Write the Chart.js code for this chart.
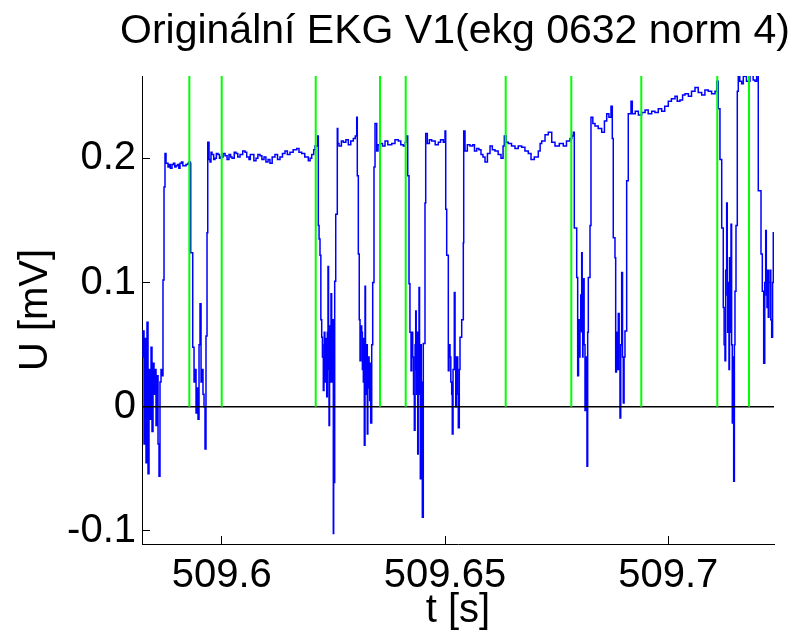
<!DOCTYPE html>
<html>
<head>
<meta charset="utf-8">
<script src="https://cdn.jsdelivr.net/npm/chart.js@4.4.1/dist/chart.umd.min.js"></script>
<style>
  html, body { margin: 0; padding: 0; background: #fff; }
  canvas { display: block; }
</style>
</head>
<body>
<canvas id="ekg" width="793" height="637"></canvas>
<script>
// signal: [time s, voltage mV]
const samples = [
  // noise at the left edge, rise to first plateau
  [509.58222, 0.040], [509.58238, 0.061], [509.58260, -0.030], [509.58283, 0.055],
  [509.58305, -0.045], [509.58327, 0.068], [509.58350, -0.054], [509.58372, 0.030],
  [509.58395, -0.010], [509.58417, 0.048], [509.58439, -0.020], [509.58462, 0.035],
  [509.58484, 0.010], [509.58506, 0.030], [509.58529, -0.015], [509.58551, 0.025],
  [509.58574, -0.030], [509.58596, -0.056], [509.58618, 0.020], [509.58641, 0.030],
  [509.58663, 0.025], [509.58685, 0.102], [509.58708, 0.177], [509.58730, 0.204],
  [509.58753, 0.196], [509.58797, 0.193], [509.58820, 0.195], [509.58850, 0.192],
  [509.58887, 0.195], [509.58920, 0.196], [509.58950, 0.193], [509.58977, 0.194],
  [509.59010, 0.195], [509.59040, 0.192], [509.59066, 0.196], [509.59100, 0.197],
  [509.59130, 0.194], [509.59156, 0.194], [509.59200, 0.195], [509.59245, 0.196],
  [509.59270, 0.197], [509.59297, 0.196],
  // first complex
  [509.59306, 0.124], [509.59351, 0.048], [509.59380, 0.020], [509.59402, 0.030],
  [509.59425, -0.005], [509.59447, 0.015], [509.59469, -0.010], [509.59492, 0.050],
  [509.59514, 0.083], [509.59537, 0.020], [509.59559, 0.030], [509.59581, 0.010],
  [509.59604, 0.000], [509.59626, -0.034], [509.59648, 0.057], [509.59671, 0.140],
  [509.59687, 0.213],
  // plateau
  [509.59716, 0.199], [509.59738, 0.197], [509.59760, 0.205], [509.59783, 0.203],
  [509.59820, 0.199], [509.59850, 0.200], [509.59880, 0.204], [509.59917, 0.203],
  [509.59950, 0.200], [509.59984, 0.201], [509.60030, 0.204], [509.60074, 0.202],
  [509.60120, 0.199], [509.60163, 0.203], [509.60200, 0.201], [509.60231, 0.200],
  [509.60280, 0.205], [509.60320, 0.204], [509.60360, 0.201], [509.60410, 0.203],
  [509.60470, 0.206], [509.60522, 0.205], [509.60560, 0.201], [509.60611, 0.199],
  [509.60640, 0.203], [509.60678, 0.203], [509.60720, 0.198], [509.60768, 0.200],
  [509.60810, 0.203], [509.60858, 0.202], [509.60900, 0.199], [509.60947, 0.201],
  [509.60990, 0.197], [509.61037, 0.199], [509.61080, 0.196], [509.61130, 0.201],
  [509.61193, 0.203], [509.61250, 0.199], [509.61305, 0.201], [509.61360, 0.204],
  [509.61417, 0.206], [509.61470, 0.203], [509.61529, 0.205], [509.61600, 0.207],
  [509.61679, 0.208], [509.61730, 0.205], [509.61791, 0.204], [509.61860, 0.201],
  [509.61939, 0.198], [509.61980, 0.200], [509.62015, 0.203], [509.62060, 0.207],
  [509.62089, 0.210], [509.62150, 0.218],
  // second complex
  [509.62163, 0.146], [509.62180, 0.135], [509.62201, 0.122], [509.62220, 0.070],
  [509.62239, 0.056], [509.62255, 0.040], [509.62275, 0.013], [509.62290, 0.050],
  [509.62297, 0.060], [509.62310, 0.020], [509.62329, 0.030], [509.62340, 0.055],
  [509.62351, 0.008], [509.62365, 0.060], [509.62380, 0.113], [509.62392, 0.030],
  [509.62403, -0.015], [509.62415, 0.065], [509.62425, 0.050], [509.62437, 0.020],
  [509.62447, 0.091], [509.62462, 0.040], [509.62476, 0.020], [509.62490, 0.070],
  [509.62499, -0.102], [509.62507, 0.050], [509.62515, -0.061], [509.62530, 0.101],
  [509.62553, 0.155], [509.62588, 0.224],
  [509.62600, 0.212], [509.62626, 0.210], [509.62680, 0.214], [509.62723, 0.213],
  [509.62780, 0.215], [509.62835, 0.211], [509.62890, 0.214], [509.62947, 0.216],
  [509.62990, 0.218], [509.63023, 0.233],
  [509.63036, 0.186], [509.63059, 0.123], [509.63080, 0.070], [509.63097, 0.037],
  [509.63115, 0.065], [509.63135, 0.060], [509.63150, 0.030], [509.63171, 0.020],
  [509.63182, 0.055], [509.63193, -0.031], [509.63209, 0.097], [509.63220, 0.040],
  [509.63231, 0.010], [509.63245, 0.050], [509.63260, -0.022], [509.63272, 0.030],
  [509.63283, 0.040], [509.63300, 0.015], [509.63314, 0.005], [509.63325, 0.035],
  [509.63336, -0.013], [509.63359, 0.050], [509.63381, 0.100], [509.63410, 0.193],
  [509.63433, 0.228],
  [509.63471, 0.206], [509.63500, 0.211], [509.63545, 0.212], [509.63600, 0.210],
  [509.63657, 0.214], [509.63720, 0.211], [509.63807, 0.212], [509.63880, 0.215],
  [509.63954, 0.214], [509.64010, 0.211], [509.64066, 0.210], [509.64110, 0.213],
  [509.64142, 0.218],
  // third complex
  [509.64165, 0.186], [509.64194, 0.099], [509.64215, 0.060], [509.64239, 0.029],
  [509.64255, 0.060], [509.64277, 0.040], [509.64295, 0.010], [509.64313, -0.019],
  [509.64330, 0.050], [509.64344, 0.077], [509.64355, 0.030], [509.64366, 0.010],
  [509.64378, 0.060], [509.64389, -0.038], [509.64400, 0.040], [509.64418, 0.096],
  [509.64430, 0.010], [509.64447, -0.058], [509.64458, 0.050], [509.64469, 0.020],
  [509.64480, -0.030], [509.64492, -0.089], [509.64514, 0.051], [509.64552, 0.164],
  [509.64568, 0.220],
  [509.64604, 0.212], [509.64650, 0.215], [509.64702, 0.214], [509.64780, 0.211],
  [509.64850, 0.213], [509.64900, 0.215], [509.64962, 0.213], [509.65000, 0.222],
  [509.65016, 0.159], [509.65038, 0.122], [509.65074, 0.029], [509.65090, 0.050],
  [509.65112, 0.040], [509.65130, 0.020], [509.65150, 0.010], [509.65163, -0.022],
  [509.65180, 0.030], [509.65208, 0.092], [509.65225, 0.040], [509.65240, 0.000],
  [509.65255, 0.030], [509.65269, 0.040], [509.65285, 0.010], [509.65298, -0.017],
  [509.65320, 0.030], [509.65336, 0.056], [509.65374, 0.070], [509.65410, 0.132],
  [509.65419, 0.222],
  // long plateau
  [509.65448, 0.206], [509.65500, 0.211], [509.65560, 0.210], [509.65620, 0.211],
  [509.65660, 0.206], [509.65710, 0.208], [509.65760, 0.207], [509.65806, 0.203],
  [509.65850, 0.201], [509.65896, 0.197], [509.65950, 0.204], [509.66008, 0.210],
  [509.66060, 0.207], [509.66120, 0.206], [509.66190, 0.203], [509.66254, 0.200],
  [509.66300, 0.210], [509.66328, 0.218], [509.66370, 0.213], [509.66417, 0.212],
  [509.66490, 0.210], [509.66567, 0.208], [509.66640, 0.210], [509.66717, 0.209],
  [509.66790, 0.206], [509.66865, 0.204], [509.66926, 0.199], [509.67000, 0.201],
  [509.67089, 0.206], [509.67130, 0.212], [509.67165, 0.214], [509.67240, 0.219],
  [509.67313, 0.221], [509.67390, 0.213], [509.67463, 0.210], [509.67560, 0.212],
  [509.67649, 0.210], [509.67720, 0.214], [509.67799, 0.216], [509.67840, 0.218],
  [509.67873, 0.221],
  // fourth complex
  [509.67895, 0.144], [509.67949, 0.104], [509.67971, 0.025], [509.67990, 0.070],
  [509.68005, 0.040], [509.68023, 0.061], [509.68040, 0.090], [509.68061, 0.124],
  [509.68072, 0.060], [509.68083, 0.040], [509.68090, 0.080], [509.68097, 0.103],
  [509.68115, 0.050], [509.68135, -0.003], [509.68150, 0.040], [509.68165, 0.010],
  [509.68179, -0.048], [509.68195, 0.060], [509.68209, 0.104], [509.68247, 0.146],
  [509.68269, 0.233],
  [509.68310, 0.228], [509.68359, 0.226], [509.68430, 0.224], [509.68509, 0.221],
  [509.68570, 0.230], [509.68621, 0.236], [509.68670, 0.233], [509.68717, 0.242],
  [509.68746, 0.216], [509.68768, 0.136], [509.68806, 0.120], [509.68822, 0.028],
  [509.68840, 0.060], [509.68860, 0.030], [509.68880, 0.075], [509.68900, 0.030],
  [509.68918, -0.009], [509.68935, 0.050], [509.68956, 0.108], [509.68975, 0.040],
  [509.68992, 0.003], [509.69010, 0.040], [509.69030, 0.061], [509.69068, 0.182],
  [509.69104, 0.236], [509.69165, 0.246],
  // rising plateau
  [509.69194, 0.236], [509.69260, 0.238], [509.69330, 0.235], [509.69404, 0.237],
  [509.69480, 0.239], [509.69550, 0.236], [509.69628, 0.238], [509.69700, 0.237],
  [509.69776, 0.240], [509.69852, 0.238], [509.69920, 0.242], [509.70000, 0.246],
  [509.70070, 0.248], [509.70150, 0.250], [509.70200, 0.246], [509.70262, 0.247],
  [509.70320, 0.251], [509.70374, 0.252], [509.70450, 0.250], [509.70520, 0.254],
  [509.70598, 0.257], [509.70670, 0.253], [509.70748, 0.251], [509.70820, 0.255],
  [509.70895, 0.254], [509.70970, 0.252], [509.71046, 0.254], [509.71084, 0.262],
  // fifth complex
  [509.71119, 0.240], [509.71157, 0.199], [509.71196, 0.144], [509.71231, 0.080],
  [509.71250, 0.050], [509.71269, 0.037], [509.71285, 0.110], [509.71307, 0.164],
  [509.71320, 0.090], [509.71330, 0.060], [509.71345, 0.100], [509.71359, 0.030],
  [509.71370, 0.120], [509.71381, 0.090], [509.71395, 0.060], [509.71404, 0.147],
  [509.71418, 0.050], [509.71433, -0.013], [509.71450, 0.040], [509.71464, -0.060],
  [509.71480, 0.050], [509.71493, 0.093], [509.71516, 0.146], [509.71545, 0.254],
  [509.71567, 0.270], [509.71600, 0.262], [509.71643, 0.260], [509.71680, 0.266],
  [509.71717, 0.268], [509.71750, 0.262], [509.71791, 0.262], [509.71830, 0.268],
  [509.71867, 0.270], [509.71900, 0.263], [509.71941, 0.262], [509.71979, 0.270],
  [509.72015, 0.174], [509.72076, 0.123], [509.72105, 0.093], [509.72136, 0.035],
  [509.72160, 0.100], [509.72181, 0.142], [509.72195, 0.090], [509.72210, 0.080],
  [509.72225, 0.110], [509.72239, 0.072], [509.72255, 0.100], [509.72277, 0.110],
  [509.72295, 0.070], [509.72315, 0.056], [509.72335, 0.100], [509.72351, 0.140],
  [509.72367, 0.101]
];

// green markers (detected wave boundaries)
const markerTimes = [
  509.59275, 509.60000, 509.62105, 509.63545, 509.64120,
  509.66359, 509.67828, 509.69395, 509.71097, 509.71807
];

const xTicks = [509.6, 509.65, 509.7];
const xTickLabels = ['509.6', '509.65', '509.7'];
const yTicks = [-0.1, 0, 0.1, 0.2];
const yTickLabels = ['-0.1', '0', '0.1', '0.2'];

const xMin = 509.58215, xMax = 509.72367;
const yMin = -0.1105, yMax = 0.2663;

const FONT = '"Liberation Sans", Arial, Helvetica, sans-serif';

const datasets = [
  {
    data: samples.map(s => ({ x: s[0], y: s[1] })),
    borderColor: '#0000ff',
    borderWidth: 1.5,
    pointRadius: 0,
    stepped: true,
    order: 3
  },
  {
    data: [{ x: xMin, y: 0 }, { x: xMax, y: 0 }],
    borderColor: '#000000',
    borderWidth: 1.5,
    pointRadius: 0,
    order: 2
  }
];
markerTimes.forEach(m => {
  datasets.push({
    data: [{ x: m, y: 0 }, { x: m, y: yMax }],
    borderColor: '#00ff00',
    borderWidth: 2,
    pointRadius: 0,
    order: 1
  });
});

new Chart(document.getElementById('ekg'), {
  type: 'line',
  data: { datasets },
  options: {
    responsive: false,
    animation: false,
    devicePixelRatio: 1,
    layout: { padding: { left: 0, right: 3, top: 0, bottom: 0 } },
    plugins: {
      legend: { display: false },
      tooltip: { enabled: false },
      title: {
        display: true,
        text: 'Originální EKG V1(ekg 0632 norm 4)',
        align: 'end',
        color: '#000',
        font: { family: FONT, size: 41, weight: 'normal' },
        padding: { top: 7, bottom: 19.8 }
      }
    },
    scales: {
      x: {
        type: 'linear',
        min: xMin,
        max: xMax,
        afterFit: s => { s.height = 93; },
        afterBuildTicks: s => { s.ticks = xTicks.map(v => ({ value: v })); },
        grid: { drawOnChartArea: false, drawTicks: true, tickLength: -8, color: '#000' },
        border: { display: true, color: '#000', width: 1 },
        ticks: {
          color: '#000',
          font: { family: FONT, size: 40 },
          padding: 16,
          maxRotation: 0,
          callback: (v, i) => xTickLabels[i]
        },
        title: {
          display: true,
          text: 't [s]',
          color: '#000',
          font: { family: FONT, size: 40 },
          padding: { top: 0, bottom: 2 }
        }
      },
      y: {
        type: 'linear',
        min: yMin,
        max: yMax,
        afterFit: s => { s.width = 142; },
        afterBuildTicks: s => { s.ticks = yTicks.map(v => ({ value: v })); },
        grid: { drawOnChartArea: false, drawTicks: true, tickLength: -8, color: '#000' },
        border: { display: true, color: '#000', width: 1 },
        ticks: {
          color: '#000',
          font: { family: FONT, size: 40 },
          padding: 14,
          callback: (v, i) => yTickLabels[i]
        },
        title: {
          display: true,
          text: 'U [mV]',
          color: '#000',
          font: { family: FONT, size: 40 },
          padding: { top: 12, bottom: 0 }
        }
      },
      // empty right gutter so the plot ends where the reference's does
      yRight: {
        position: 'right',
        display: true,
        afterFit: s => { s.width = 16; },
        grid: { display: false },
        border: { display: false },
        ticks: { display: false }
      }
    }
  }
});
</script>
</body>
</html>
